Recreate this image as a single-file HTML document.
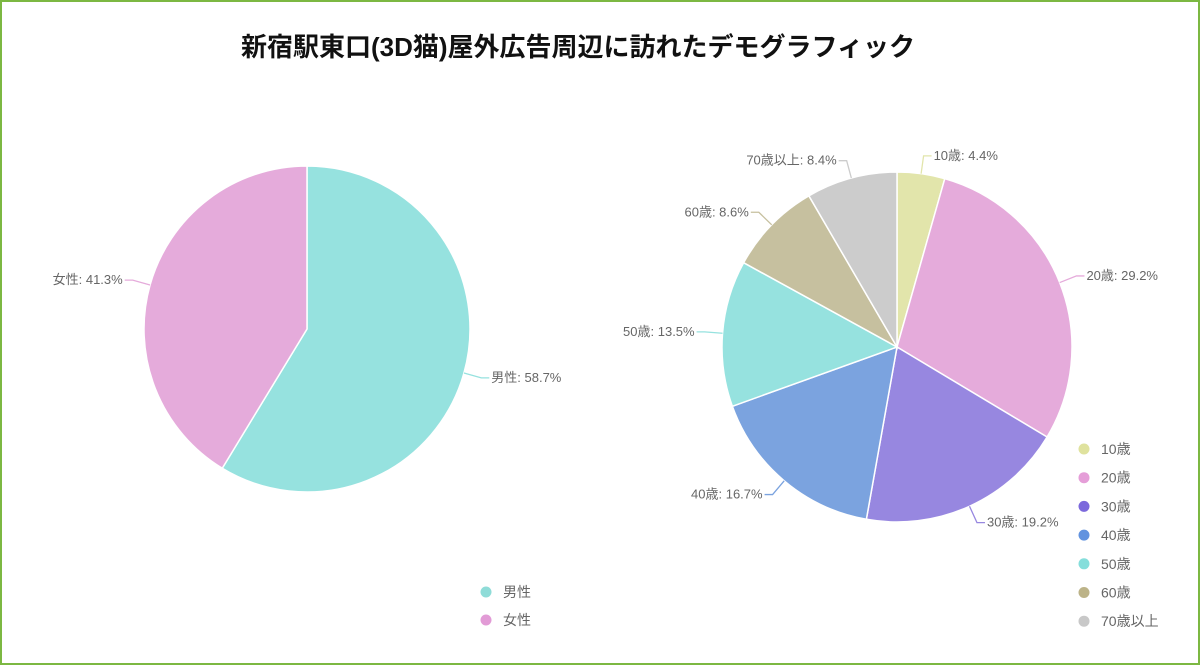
<!DOCTYPE html>
<html><head><meta charset="utf-8">
<style>
html,body{margin:0;padding:0;background:#fff;}
#wrap{position:relative;width:1196px;height:661px;border:2px solid #7cb842;overflow:hidden;}
#title{position:absolute;left:0;width:1152px;top:25px;text-align:center;font:bold 26px "Liberation Sans","Noto Sans CJK JP",sans-serif;color:#111;}
svg text{font-family:"Liberation Sans","Noto Sans CJK JP",sans-serif;}
</style></head><body>
<div id="wrap">
<div id="title">新宿駅東口(3D猫)屋外広告周辺に訪れたデモグラフィック</div>
<svg id="svg" width="1196" height="661" style="position:absolute;left:0;top:0"></svg>
</div>
<script>
const genderCats=["男性","女性"];
const genderVals=[58.7,41.3];
const genderColors=["#96e2df","#e5abdb"];
const genderLegend=["#8fdcd8","#e29bd6"];
const ageCats=["10歳","20歳","30歳","40歳","50歳","60歳","70歳以上"];
const ageVals=[4.4,29.2,19.2,16.7,13.5,8.6,8.4];
const ageColors=["#e2e5ab","#e5abdb","#9787e0","#7ba3df","#96e2df","#c6c09f","#cccccc"];
const ageLegend=["#dfe29e","#e59ed8","#7c69dc","#6293df","#85dedb","#bcb388","#c8c8c8"];
const NS="http://www.w3.org/2000/svg";
const svg=document.getElementById('svg');
function mk(t,a){const e=document.createElementNS(NS,t);for(const k in a)e.setAttribute(k,a[k]);svg.appendChild(e);return e;}
function pie(cx,cy,r,cats,vals,cols,name){
  const tot=vals.reduce((a,b)=>a+b,0);let acc=0;
  vals.forEach((v,i)=>{
    const a0=acc/tot*2*Math.PI;acc+=v;const a1=acc/tot*2*Math.PI;
    const P=a=>[cx+r*Math.sin(a),cy-r*Math.cos(a)];
    const p0=P(a0),p1=P(a1);const large=(a1-a0)>Math.PI?1:0;
    const s=mk('path',{d:`M${cx},${cy}L${p0[0]},${p0[1]}A${r},${r} 0 ${large} 1 ${p1[0]},${p1[1]}Z`,fill:cols[i],stroke:'#fff','stroke-width':1.5});
    
    
    const m=(a0+a1)/2,sx=Math.sin(m),cy_=-Math.cos(m);
    const q0=[cx+r*sx,cy+r*cy_],q1=[cx+(r+18)*sx,cy+(r+18)*cy_];
    const dir=sx>=0?1:-1;const q2=[q1[0]+dir*8,q1[1]];
    const l=mk('polyline',{points:`${q0} ${q1} ${q2}`,fill:'none',stroke:cols[i],'stroke-width':1.3});
    
    
    const t=mk('text',{x:q2[0]+dir*2,y:q2[1]+4,'font-size':13,fill:'#666','text-anchor':dir>0?'start':'end'});
    t.textContent=cats[i]+': '+v+'%';
    
    
  });
}
function legend(x,y,step,cats,cols,name){
  cats.forEach((c,i)=>{
    const d=mk('circle',{cx:x,cy:y+i*step,r:5.5,fill:cols[i]});
    
    
    const t=mk('text',{x:x+17,y:y+i*step+5,'font-size':14,fill:'#666'});t.textContent=c;
    
    
  });
}
pie(305,327,163,genderCats,genderVals,genderColors,'gender');
pie(895,345,175,ageCats,ageVals,ageColors,'age');
legend(484,590,28,genderCats,genderLegend,'gender');
legend(1082,447,28.7,ageCats,ageLegend,'age');
</script>
</body></html>
